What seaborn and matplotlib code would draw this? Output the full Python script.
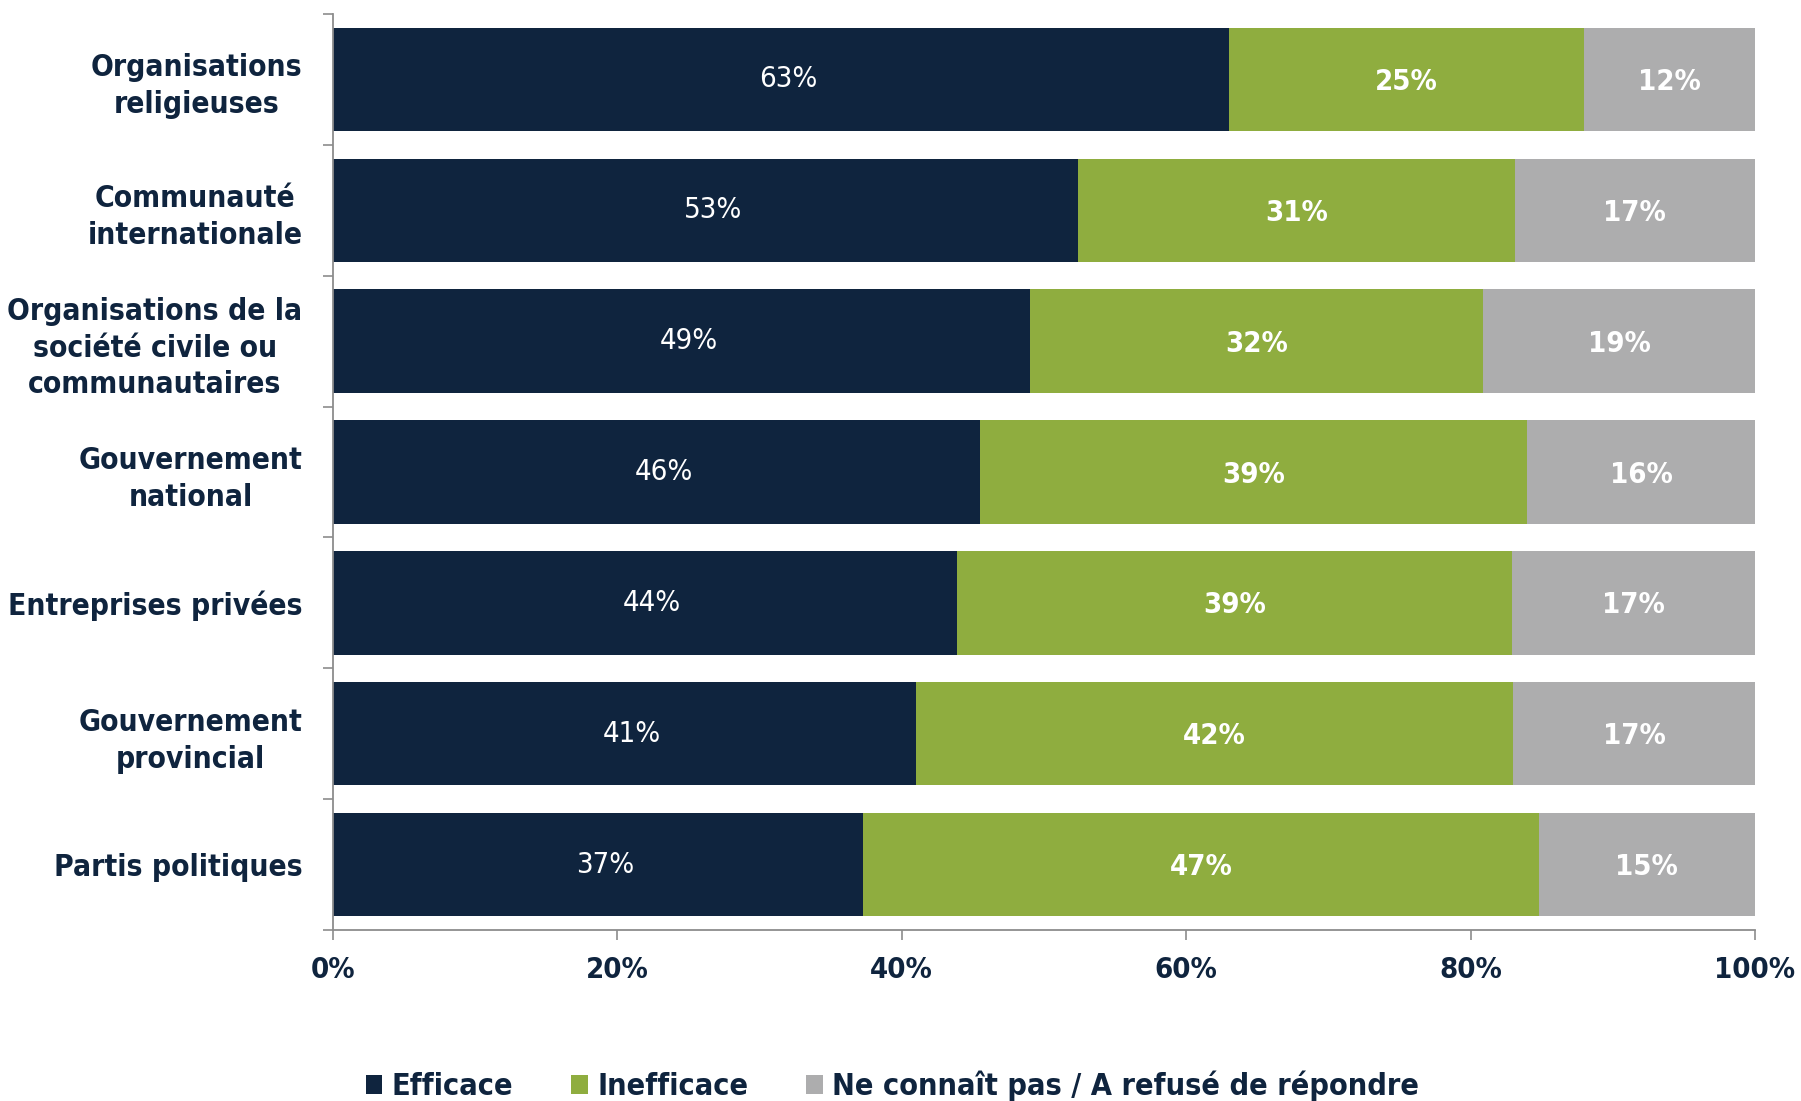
import matplotlib
matplotlib.use("Agg")
import matplotlib.pyplot as plt
import seaborn as sns
import numpy as np
import pandas as pd
from matplotlib.patches import Patch
from matplotlib.ticker import FixedLocator

categories = [
    "Organisations\nreligieuses",
    "Communauté\ninternationale",
    "Organisations de la\nsociété civile ou\ncommunautaires",
    "Gouvernement\nnational",
    "Entreprises privées",
    "Gouvernement\nprovincial",
    "Partis politiques",
]
efficace = [63.0, 52.4, 49.0, 45.5, 43.9, 41.0, 37.3]
inefficace = [25.0, 30.7, 31.9, 38.5, 39.0, 42.0, 47.5]
ne_sait_pas = [12.0, 16.9, 19.1, 16.0, 17.1, 17.0, 15.2]
label_efficace = ["63%", "53%", "49%", "46%", "44%", "41%", "37%"]
label_inefficace = ["25%", "31%", "32%", "39%", "39%", "42%", "47%"]
label_nsp = ["12%", "17%", "19%", "16%", "17%", "17%", "15%"]
series_names = ["Efficace", "Inefficace", "Ne connaît pas / A refusé de répondre"]
x_ticks = [0, 20, 40, 60, 80, 100]
x_tick_labels = ["0%", "20%", "40%", "60%", "80%", "100%"]

NAVY = "#0F243E"
GREEN = "#8FAD3F"
GRAY = "#ADADAE"
AXIS = "#8C8C8C"

sns.set_theme(style="white")
plt.rcParams["font.family"] = ["DejaVu Sans"]
plt.rcParams["font.stretch"] = "condensed"

df = pd.DataFrame({
    "cat": categories,
    "eff": efficace,
    "ineff": inefficace,
    "nsp": ne_sait_pas,
})
df["c1"] = df["eff"]
df["c2"] = df["eff"] + df["ineff"]
df["c3"] = df["c2"] + df["nsp"]

fig = plt.figure(figsize=(18.01, 11.01), dpi=100)
ax = fig.add_axes([333 / 1801, 1 - 930 / 1101, (1755 - 333) / 1801, (930 - 14) / 1101])

W = 0.79
sns.barplot(data=df, x="c3", y="cat", orient="h", color=GRAY, width=W, ax=ax,
            saturation=1, linewidth=0, errorbar=None)
sns.barplot(data=df, x="c2", y="cat", orient="h", color=GREEN, width=W, ax=ax,
            saturation=1, linewidth=0, errorbar=None)
sns.barplot(data=df, x="c1", y="cat", orient="h", color=NAVY, width=W, ax=ax,
            saturation=1, linewidth=0, errorbar=None)

ax.set_xlim(0, 100)
ax.set_ylim(len(categories) - 0.5, -0.5)
ax.set_xlabel("")
ax.set_ylabel("")

# bar labels
for i in range(len(categories)):
    ax.text(df["eff"][i] / 2 + 0.5, i, label_efficace[i], ha="center", va="center",
            color="white", fontsize=21, fontweight="normal")
    ax.text(df["c1"][i] + df["ineff"][i] / 2, i + 0.02, label_inefficace[i], ha="center",
            va="center", color="white", fontsize=21, fontweight="bold")
    ax.text(df["c2"][i] + df["nsp"][i] / 2, i + 0.02, label_nsp[i], ha="center",
            va="center", color="white", fontsize=21, fontweight="bold")

# axes styling
for s in ["top", "right"]:
    ax.spines[s].set_visible(False)
for s in ["left", "bottom"]:
    ax.spines[s].set_color(AXIS)
    ax.spines[s].set_linewidth(1.3)

ax.set_xticks(x_ticks)
ax.set_xticklabels(x_tick_labels, fontsize=21, fontweight="bold", color=NAVY)
ax.tick_params(axis="x", direction="out", length=7, width=1.2, color=AXIS, pad=12,
               bottom=True)

# y: major ticks at band boundaries, labels at minor (centers)
ax.yaxis.set_major_locator(FixedLocator(np.arange(-0.5, len(categories), 1.0)))
ax.yaxis.set_minor_locator(FixedLocator(np.arange(len(categories))))
ax.set_yticklabels([], minor=False)
ax.set_yticklabels(categories, minor=True, fontsize=21.5, fontweight="bold",
                   color=NAVY, ha="right", multialignment="center",
                   linespacing=1.34)
ax.tick_params(axis="y", which="major", direction="out", length=7, width=1.2,
               color=AXIS, left=True)
ax.tick_params(axis="y", which="minor", length=0, pad=22, left=True)

handles = [Patch(facecolor=c, edgecolor="none") for c in [NAVY, GREEN, GRAY]]
fig.legend(handles, series_names, loc="center", bbox_to_anchor=(0.4955, 1 - 1086 / 1101),
           ncol=3, frameon=False, handlelength=0.55, handleheight=0.55,
           handletextpad=0.3, columnspacing=1.9,
           prop={"size": 22, "weight": "bold"}, labelcolor=NAVY)

fig.savefig("out.png", dpi=100)
